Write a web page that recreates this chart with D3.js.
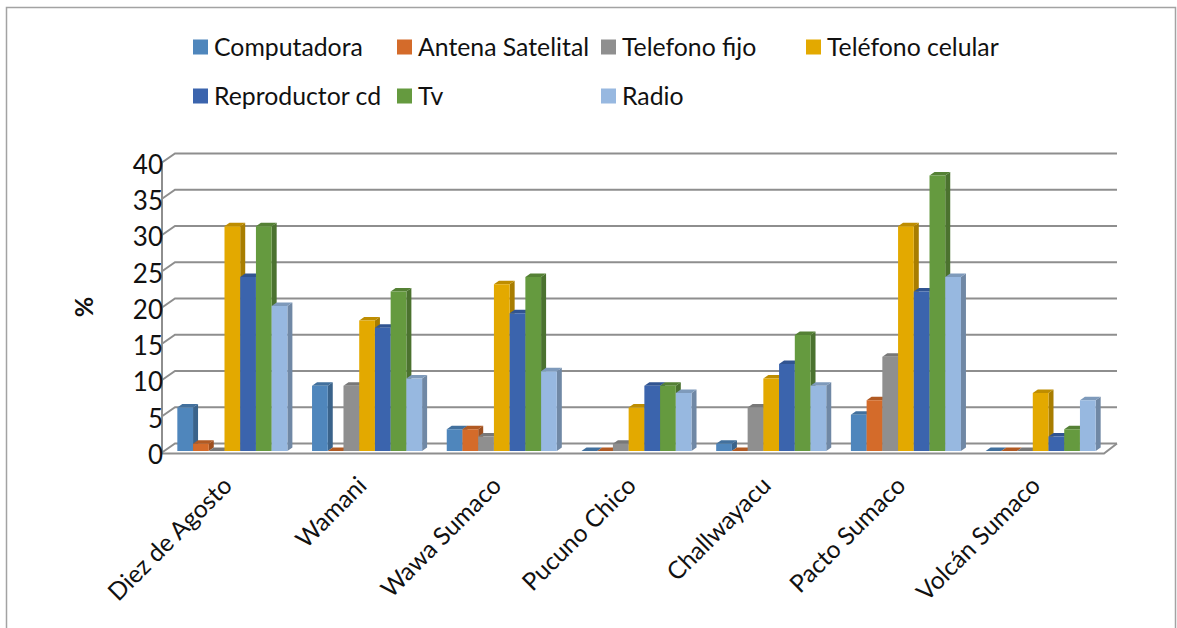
<!DOCTYPE html>
<html>
<head>
<meta charset="utf-8">
<script src="https://cdn.jsdelivr.net/npm/d3@7"></script>
<style>
  html, body { margin: 0; padding: 0; background: #fff; }
  svg { display: block; }
  text { font-family: Lato, "Open Sans", sans-serif; fill: #111; }
</style>
</head>
<body>
<svg width="1177" height="628"></svg>
<script>
// Acceso a tecnologia por comunidad (%)
var comunidades = ["Diez de Agosto", "Wamani", "Wawa Sumaco", "Pucuno Chico", "Challwayacu", "Pacto Sumaco", "Volcán Sumaco"];
var equipos = ["Computadora", "Antena Satelital", "Telefono fijo", "Teléfono celular", "Reproductor cd", "Tv", "Radio"];

var computadora = [6, 9, 3, 0, 1, 5, 0];
var antena = [1, 0, 3, 0, 0, 7, 0];
var telefonoFijo = [0, 9, 2, 1, 6, 13, 0];
var celular = [31, 18, 23, 6, 10, 31, 8];
var reproductor = [24, 17, 19, 9, 12, 22, 2];
var tv = [31, 22, 24, 9, 16, 38, 3];
var radio = [20, 10, 11, 8, 9, 24, 7];
var series = [computadora, antena, telefonoFijo, celular, reproductor, tv, radio];

var yTicks = [0, 5, 10, 15, 20, 25, 30, 35, 40];
var colores = ["#4f86bc", "#d46b2a", "#8f8f8f", "#e3a900", "#3b64ad", "#659a3f", "#97b8e0"];

var svg = d3.select("svg");

// marco exterior
svg.append("path")
	.attr("d", "M6.5,628V7.5H1175.5V628")
	.attr("fill", "none")
	.attr("stroke", "#a3a3a3")
	.attr("stroke-width", 1.5);

var x = d3.scaleBand()
	.domain(comunidades)
	.range([165, 1108])
	.paddingInner(0.183)
	.paddingOuter(0.0915);

var xSerie = d3.scaleBand()
	.domain(d3.range(equipos.length))
	.range([0, x.bandwidth()]);

var y = d3.scaleLinear().domain([0, 40]).range([451, 161]);

// profundidad del grafico 3d
var wallDx = 13, wallDy = -9, left = 162, right = 1104;
var barDx = 5, barDy = -3.5;
var gridColor = "#8e8e8e";

var wall = svg.append("g")
	.attr("fill", "none")
	.attr("stroke", gridColor)
	.attr("stroke-width", 2);

yTicks.forEach(function(t){
	var yf = y(t) + 1.5;
	wall.append("path")
		.attr("d", "M" + left + "," + yf + "L" + (left + wallDx) + "," + (yf + wallDy) + "H" + (right + wallDx));
});

// piso y pared izquierda
wall.append("path")
	.attr("d", "M" + left + "," + (y(0) + 2.5) + "H" + right + "L" + (right + wallDx) + "," + (y(0) + 2.5 + wallDy - 1));
wall.append("path")
	.attr("d", "M" + left + "," + (y(40) + 1.5) + "V" + (y(0) + 2.5));

// barras
var grupos = svg.selectAll("g.grupo")
	.data(comunidades)
	.enter().append("g")
		.attr("class", "grupo")
		.attr("transform", function(d){ return "translate(" + x(d) + ",0)"; });

var barras = grupos.selectAll("g.barra")
	.data(function(d, i){
		return series.map(function(s, j){ return { serie : j, valor : s[i] }; });
	})
	.enter().append("g")
		.attr("class", "barra");

var w = xSerie.bandwidth();

// lado
barras.append("path")
	.attr("fill", function(d){ return d3.color(colores[d.serie]).darker(0.85); })
	.attr("d", function(d){
		var x1 = xSerie(d.serie) + w, top = y(d.valor), base = y(0);
		return "M" + x1 + "," + top + "l" + barDx + "," + barDy + "V" + (base + barDy) + "l" + (-barDx) + "," + (-barDy) + "Z";
	});

// tapa
barras.append("path")
	.attr("fill", function(d){ return d3.color(colores[d.serie]).darker(0.5); })
	.attr("d", function(d){
		var x0 = xSerie(d.serie), top = y(d.valor);
		return "M" + x0 + "," + top + "l" + barDx + "," + barDy + "h" + w + "l" + (-barDx) + "," + (-barDy) + "Z";
	});

// frente
barras.append("rect")
	.attr("fill", function(d){ return colores[d.serie]; })
	.attr("x", function(d){ return xSerie(d.serie); })
	.attr("y", function(d){ return y(d.valor); })
	.attr("width", w)
	.attr("height", function(d){ return y(0) - y(d.valor); });

// ejes
var axisY = svg.append("g")
	.attr("transform", "translate(163,4)")
	.call(d3.axisLeft(y).tickValues(yTicks).tickSize(0).tickPadding(0));
axisY.select(".domain").remove();
axisY.selectAll("text")
	.style("font-family", "Lato")
	.style("font-size", "26px")
	.attr("fill", "#111");

var axisX = svg.append("g")
	.attr("transform", "translate(-17,475)")
	.call(d3.axisBottom(x).tickSize(0).tickPadding(0));
axisX.select(".domain").remove();
axisX.selectAll("text")
	.style("font-family", "Lato")
	.style("font-size", "24.5px")
	.attr("fill", "#111")
	.attr("text-anchor", "end")
	.attr("dy", "0.7em")
	.attr("transform", "translate(6,0) rotate(-45)");

svg.append("text")
	.attr("transform", "translate(93,307) rotate(-90)")
	.attr("text-anchor", "middle")
	.attr("font-size", 25)
	.attr("font-weight", "bold")
	.text("%");

// leyenda
var legendCols = [193, 397, 601, 806], legendRows = [47, 96];
var leg = svg.selectAll("g.leg")
	.data(equipos)
	.enter().append("g")
		.attr("class", "leg")
		.attr("transform", function(d, i){
			return "translate(" + legendCols[i % 4] + "," + legendRows[Math.floor(i / 4)] + ")";
		});
leg.append("rect")
	.attr("y", -7.5)
	.attr("width", 15)
	.attr("height", 15)
	.attr("fill", function(d, i){ return colores[i]; });
leg.append("text")
	.attr("x", 21)
	.attr("dy", "0.35em")
	.attr("font-size", 24.8)
	.text(function(d){ return d; });
</script>
</body>
</html>
